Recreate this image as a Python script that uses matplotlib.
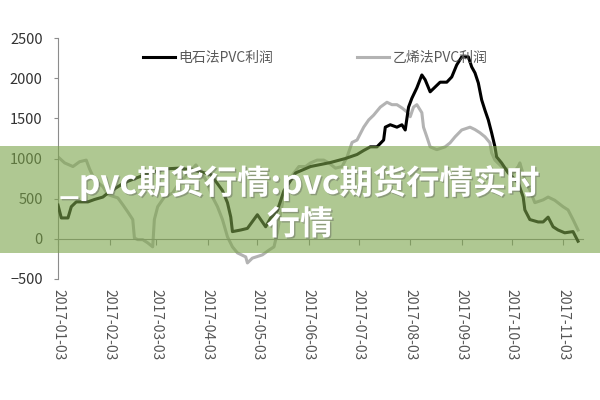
import numpy as np
import pandas as pd
import matplotlib
matplotlib.use("Agg")
import matplotlib.pyplot as plt
import matplotlib.patheffects as pe
from matplotlib.patches import Rectangle

plt.rcParams['font.family'] = ['Noto Sans CJK SC', 'DejaVu Sans']

# 电石法PVC利润 (black)
calcium_dates = ["01-03", "01-05", "01-09", "01-11", "01-14", "01-21", "01-25", "01-30",
                 "02-02", "02-12", "02-27", "03-08", "03-17", "03-27", "04-05", "04-12",
                 "04-15", "04-17", "04-18", "04-23", "04-27", "05-03", "05-05", "05-08",
                 "05-11", "05-15", "05-19", "05-26", "06-04", "06-16", "06-25", "07-02",
                 "07-06", "07-10", "07-14", "07-18", "07-19", "07-22", "07-26", "07-29",
                 "07-31", "08-02", "08-04", "08-07", "08-10", "08-12", "08-15", "08-18",
                 "08-21", "08-25", "08-28", "08-31", "09-03", "09-07", "09-09", "09-11",
                 "09-13", "09-15", "09-17", "09-19", "09-21", "09-23", "09-24", "09-27",
                 "10-01", "10-07", "10-10", "10-11", "10-14", "10-19", "10-22", "10-25",
                 "10-28", "10-31", "11-04", "11-09", "11-12"]
calcium_profit = [420, 260, 260, 400, 460, 460, 490, 520,
                  570, 700, 820, 870, 880, 850, 800, 600,
                  450, 270, 90, 110, 130, 300, 240, 150,
                  260, 350, 600, 820, 900, 950, 1000, 1050,
                  1100, 1145, 1145, 1230, 1390, 1420, 1390, 1420,
                  1355, 1640, 1750, 1880, 2040, 1980, 1830, 1890,
                  1950, 1950, 2015, 2165, 2265, 2265, 2140, 2065,
                  1940, 1730, 1600, 1480, 1320, 1145, 1020, 945,
                  820, 700, 520, 360, 240, 210, 210, 270,
                  150, 110, 75, 90, -30]

# 乙烯法PVC利润 (gray)
ethylene_dates = ["01-03", "01-07", "01-12", "01-16", "01-20", "01-22", "01-25", "01-30",
                  "02-02", "02-08", "02-11", "02-14", "02-17", "02-18", "02-20", "02-23",
                  "02-26", "03-01", "03-02", "03-04", "03-08", "03-13", "03-17", "03-22",
                  "03-27", "04-02", "04-06", "04-09", "04-12", "04-15", "04-18", "04-21",
                  "04-26", "04-27", "04-30", "05-06", "05-10", "05-13", "05-15", "05-17",
                  "05-19", "05-22", "05-25", "05-28", "06-01", "06-04", "06-08", "06-12",
                  "06-15", "06-19", "06-23", "06-26", "06-29", "07-02", "07-06", "07-09",
                  "07-12", "07-16", "07-20", "07-23", "07-26", "07-29", "08-01", "08-03",
                  "08-05", "08-07", "08-10", "08-11", "08-13", "08-15", "08-19", "08-24",
                  "08-27", "08-30", "09-03", "09-08", "09-11", "09-14", "09-17", "09-20",
                  "09-21", "09-23", "09-27", "10-01", "10-04", "10-07", "10-08", "10-11",
                  "10-14", "10-17", "10-22", "10-25", "10-29", "11-03", "11-06", "11-09",
                  "11-12"]
ethylene_profit = [1020, 945, 900, 960, 980, 870, 735, 650,
                   550, 510, 425, 335, 240, 10, -10, -10,
                   -50, -100, 240, 400, 520, 570, 700, 800,
                   920, 735, 520, 400, 240, 25, -100, -175,
                   -225, -300, -240, -200, -140, -100, 75, 320,
                   550, 735, 820, 900, 900, 945, 980, 980,
                   945, 880, 900, 1020, 1200, 1230, 1390, 1480,
                   1540, 1640, 1700, 1670, 1670, 1630, 1580, 1520,
                   1640, 1670, 1570, 1390, 1270, 1145, 1110, 1145,
                   1195, 1270, 1355, 1390, 1360, 1320, 1270, 1195,
                   1070, 980, 900, 860, 820, 900, 945, 735,
                   610, 450, 485, 520, 480, 400, 360, 240,
                   110]

tick_dates = ["2017-%02d-03" % m for m in range(1, 12)]
y_ticks = [-500, 0, 500, 1000, 1500, 2000, 2500]

x1 = pd.to_datetime(["2017-" + d for d in calcium_dates])
x2 = pd.to_datetime(["2017-" + d for d in ethylene_dates])
xt = pd.to_datetime(tick_dates)

fig = plt.figure(figsize=(6, 4), dpi=100)
ax = fig.add_axes([58 / 600, 1 - 279 / 400, (583 - 58) / 600, (279 - 38) / 400])

ax.plot(x1, calcium_profit, color='black', lw=2.2, label='电石法PVC利润', zorder=3)
ax.plot(x2, ethylene_profit, color='#b3b3b3', lw=2.2, label='乙烯法PVC利润', zorder=2)

ax.set_ylim(-500, 2500)
ax.set_xlim(pd.Timestamp("2017-01-03"), pd.Timestamp("2017-11-15"))
ax.set_yticks(y_ticks)
ax.set_xticks(xt)
ax.set_xticklabels(tick_dates)
ax.tick_params(axis='y', labelsize=10.5, colors='#333333', length=3, color='#8c8c8c', pad=8)
ax.tick_params(axis='x', length=4, color='#8c8c8c', pad=32, direction='out',
               labelrotation=-90, labelsize=10, labelcolor='#555555')

for s in ['top', 'right']:
    ax.spines[s].set_visible(False)
ax.spines['left'].set_color('#8c8c8c')
ax.spines['bottom'].set_position(('data', 0))
ax.spines['bottom'].set_color('#8c8c8c')

leg = ax.legend(loc='upper center', bbox_to_anchor=(0.49, 1.0), ncol=2, frameon=False,
                fontsize=10, handlelength=2.3, columnspacing=6.0, handletextpad=0.3)
for t in leg.get_texts():
    t.set_color('#595959')

# watermark band
fig.patches.append(Rectangle((0, 1 - 253 / 400), 1, 107 / 400, transform=fig.transFigure,
                             facecolor='#7ba44a', alpha=0.6, edgecolor='none', zorder=5))
shadow = [pe.withSimplePatchShadow(offset=(1, -1), shadow_rgbFace='#555555', alpha=0.4)]
fig.text(0.5, 1 - 183 / 400, '_pvc期货行情:pvc期货行情实时', ha='center', va='center',
         fontsize=24, fontweight='bold', color='white', zorder=6, path_effects=shadow)
fig.text(0.5, 1 - 225 / 400, '行情', ha='center', va='center',
         fontsize=24, fontweight='bold', color='white', zorder=6, path_effects=shadow)

fig.savefig('out.png', dpi=100)
